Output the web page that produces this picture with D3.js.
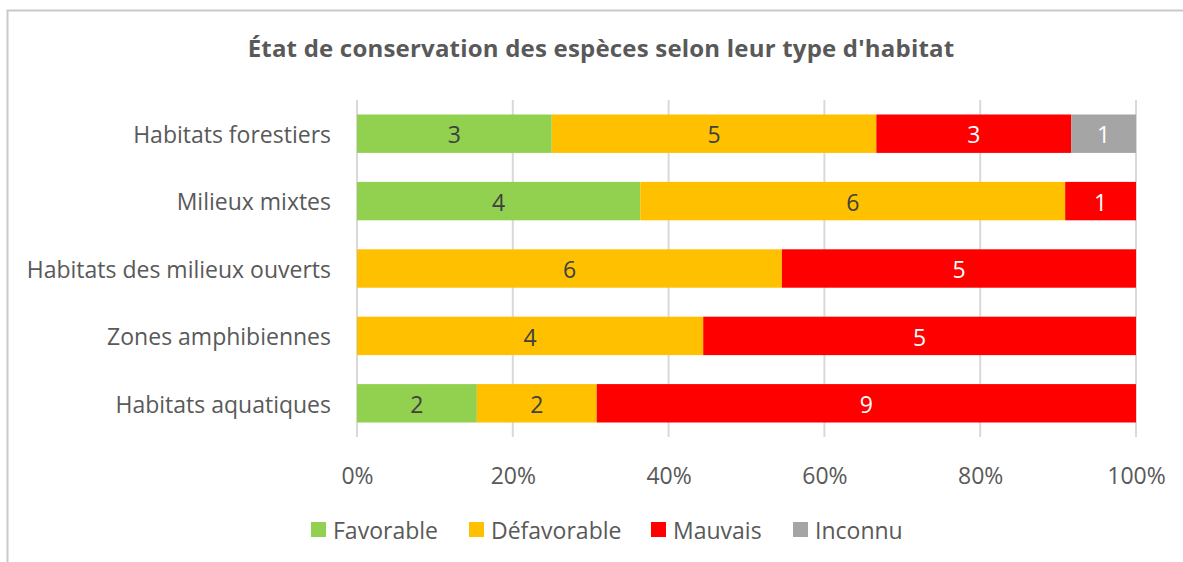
<!DOCTYPE html>
<html>
<head>
<meta charset="utf-8">
<script src="https://cdn.jsdelivr.net/npm/d3@7"></script>
<style>
  body { margin: 0; background: #fff; }
  svg { display: block; font-family: "Open Sans", "Noto Sans", sans-serif; }
</style>
</head>
<body>
<svg width="1183" height="562"></svg>
<script>
// categories (top to bottom)
const categories = ["Habitats forestiers", "Milieux mixtes", "Habitats des milieux ouverts", "Zones amphibiennes", "Habitats aquatiques"];
// series
const seriesNames = ["Favorable", "Défavorable", "Mauvais", "Inconnu"];
const favorable   = [3, 4, 0, 0, 2];
const defavorable = [5, 6, 6, 4, 2];
const mauvais     = [3, 1, 5, 5, 9];
const inconnu     = [1, 0, 0, 0, 0];
const tickValues = [0, 0.2, 0.4, 0.6, 0.8, 1];

const colors = ["#92D050", "#FFC000", "#FF0000", "#A5A5A5"];
const labelColors = ["#404040", "#404040", "#ffffff", "#ffffff"];

let svg = d3.select("svg");

// cadre du graphique
svg.append("rect")
    .attr("x", 7.5).attr("y", 10.5)
    .attr("width", 1200).attr("height", 600)
    .attr("fill", "none")
    .attr("stroke", "#c9c9c9")
    .attr("stroke-width", 2);

// titre
svg.append("text")
    .attr("x", 601).attr("y", 57)
    .attr("text-anchor", "middle")
    .attr("fill", "#595959")
    .style("font-size", "24px")
    .style("font-weight", "bold")
    .style("letter-spacing", "0.2px")
    .text("État de conservation des espèces selon leur type d'habitat");

// table des données
let rows = categories.map((c, i) => {
    let vals = [favorable[i], defavorable[i], mauvais[i], inconnu[i]];
    let total = d3.sum(vals);
    let acc = 0;
    return {
        cat: c,
        segs: vals.map((v, k) => {
            let s = {k: k, v: v, x0: acc / total, x1: (acc + v) / total};
            acc += v;
            return s;
        }).filter(s => s.v > 0)
    };
});

let x = d3.scaleLinear().domain([0, 1]).range([357, 1136]);
let y = d3.scaleBand().domain(categories).range([100, 437]).paddingInner(0.43).paddingOuter(0.215);

// grille verticale
svg.append("g")
    .selectAll("line")
    .data(tickValues)
    .enter()
    .append("line")
    .attr("x1", d => x(d)).attr("x2", d => x(d))
    .attr("y1", 100).attr("y2", 437)
    .attr("stroke", "#d9d9d9")
    .attr("stroke-width", 2);

// axe x
let xAxis = svg.append("g")
    .attr("transform", "translate(0,437)")
    .call(d3.axisBottom(x).tickValues(tickValues).tickFormat(d3.format(".0%")).tickSize(0).tickPadding(31));
xAxis.select(".domain").remove();
xAxis.selectAll("text")
    .attr("fill", "#595959")
    .style("font-size", "23px")
    .style("font-family", "\"Open Sans\", sans-serif");

// axe y
let yAxis = svg.append("g")
    .attr("transform", "translate(357,0)")
    .call(d3.axisLeft(y).tickSize(0).tickPadding(26));
yAxis.select(".domain").remove();
yAxis.selectAll("text")
    .attr("fill", "#595959")
    .attr("dy", "0.4em")
    .style("font-size", "23px")
    .style("font-family", "\"Open Sans\", sans-serif");

// barres empilées
let rowG = svg.append("g")
    .selectAll("g")
    .data(rows)
    .enter()
    .append("g")
    .attr("transform", d => "translate(0," + y(d.cat) + ")");

let seg = rowG.selectAll("g")
    .data(d => d.segs)
    .enter()
    .append("g");

seg.append("rect")
    .attr("x", d => x(d.x0))
    .attr("width", d => x(d.x1) - x(d.x0))
    .attr("height", y.bandwidth())
    .attr("fill", d => colors[d.k]);

seg.append("text")
    .attr("x", d => (x(d.x0) + x(d.x1)) / 2)
    .attr("y", y.bandwidth() / 2)
    .attr("dy", "0.42em")
    .attr("text-anchor", "middle")
    .attr("fill", d => labelColors[d.k])
    .style("font-size", "23px")
    .text(d => d.v);

// légende
let legendX = [311, 469, 651, 793];
let legend = svg.append("g")
    .selectAll("g")
    .data(seriesNames)
    .enter()
    .append("g")
    .attr("transform", (d, i) => "translate(" + legendX[i] + ",522)");
legend.append("rect")
    .attr("width", 15).attr("height", 15)
    .attr("fill", (d, i) => colors[i]);
legend.append("text")
    .attr("x", 22).attr("y", 8)
    .attr("dy", "0.38em")
    .attr("fill", "#595959")
    .style("font-size", "23px")
    .text(d => d);
</script>
</body>
</html>
